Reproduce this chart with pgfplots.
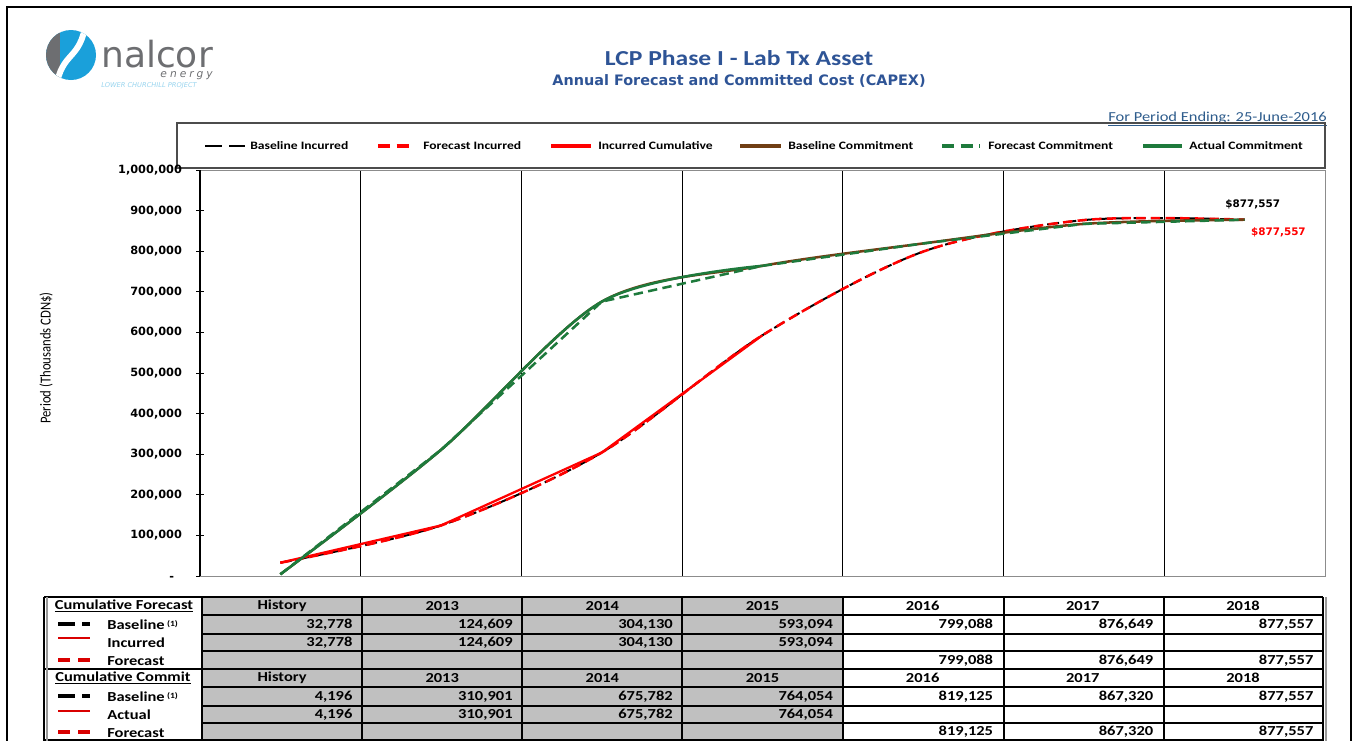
\documentclass[border=0pt]{standalone}
\usepackage{fontspec}
\setmainfont{Carlito}[FakeStretch=1.2]
\newfontfamily\calr{Carlito}
\newfontfamily\dv{DejaVu Sans}
\usepackage{graphicx}
\usepackage{pgfplots}
\pgfplotsset{compat=1.18}
\definecolor{ttl}{RGB}{46,84,150}
\definecolor{ttltwo}{RGB}{46,92,140}
\definecolor{logoblue}{RGB}{26,160,218}
\definecolor{logogray}{RGB}{109,110,113}
\definecolor{lcpred}{RGB}{255,0,0}
\definecolor{lcpgreen}{RGB}{30,122,60}
\definecolor{lcpbrown}{RGB}{112,62,20}
\definecolor{tabgray}{RGB}{192,192,192}
\begin{document}
\begin{tikzpicture}
\useasboundingbox (0pt,0pt) rectangle (1016.25pt,-555pt);
\begin{scope}[x=0.75pt,y=-0.75pt]
% outer frame
\draw[line width=2.2pt] (7,760) -- (7,7) -- (1351,7) -- (1351,760);
% logo
\fill[logoblue] (71,55) circle (25);
\begin{scope}
\clip (71,55) circle (25);
\fill[logogray] (44,20) rectangle (60,90);
\draw[white, line width=4.5] (56,88) .. controls (62,50) and (80,62) .. (86,22);
\end{scope}
\node[anchor=north west, inner sep=0, align=right, text=logogray, font=\dv\fontsize{8}{9}\selectfont] at (101,40)
  {{\fontsize{27}{27}\selectfont nalcor}\\[-1.5pt]{\itshape\addfontfeature{LetterSpace=28}energy\hspace{2pt}}};
\node[anchor=base west, inner sep=0, text=logoblue!45, font=\dv\itshape\fontsize{5}{6}\selectfont] at (101,87) {LOWER CHURCHILL PROJECT};
% titles
\node[text=ttl, font=\bfseries\fontsize{16}{18}\selectfont] at (739,58) {LCP Phase I - Lab Tx Asset};
\node[text=ttl, font=\dv\bfseries\fontsize{10.8}{12}\selectfont] at (739,81) {Annual Forecast and Committed Cost (CAPEX)};
\node[anchor=east, inner sep=0, text=ttltwo, font=\fontsize{10.3}{12}\selectfont] at (1327,119) {\underline{For Period Ending: 25-June-2016}};
% legend box
\draw[draw=black!70, line width=1.1pt] (177,123) rectangle (1325,168);
\begin{scope}[font=\bfseries\fontsize{8.5}{10}\selectfont]
\draw[black, line width=1.6] (205,146) -- (222,146) (229,146) -- (245,146);
\node[anchor=west, inner sep=0] at (250,146) {Baseline Incurred};
\draw[lcpred, line width=2.4, dash pattern=on 9 off 5] (378,146) -- (415,146);
\node[anchor=west, inner sep=0] at (423,146) {Forecast Incurred};
\draw[lcpred, line width=2.4] (551,146) -- (591,146);
\node[anchor=west, inner sep=0] at (598,146) {Incurred Cumulative};
\draw[lcpbrown, line width=3] (740,146) -- (781,146);
\node[anchor=west, inner sep=0] at (788,146) {Baseline Commitment};
\draw[lcpgreen, line width=3, dash pattern=on 9 off 5] (942,146) -- (980,146);
\node[anchor=west, inner sep=0] at (988,146) {Forecast Commitment};
\draw[lcpgreen, line width=3] (1143,146) -- (1182,146);
\node[anchor=west, inner sep=0] at (1189,146) {Actual Commitment};
\end{scope}
% y label
\node[rotate=90, font=\calr\fontsize{9.5}{11}\selectfont] at (46,358) {\scalebox{1}[1.2]{Period (Thousands CDN\$)}};
\end{scope}

\begin{axis}[
  at={(150pt,-432pt)}, anchor=south west,
  scale only axis, width=843.75pt, height=304.5pt,
  xmin=0, xmax=7, ymin=0, ymax=1000000,
  xtick={1,2,3,4,5,6}, xticklabels={}, major x tick style={draw=none},
  xmajorgrids, x grid style={black, line width=0.75pt},
  ytick={0,100000,200000,300000,400000,500000,600000,700000,800000,900000,1000000},
  yticklabels={{-\phantom{0}},{100,000},{200,000},{300,000},{400,000},{500,000},{600,000},{700,000},{800,000},{900,000},{1,000,000}},
  ytick pos=left, tick align=center, major tick length=6pt,
  ytick style={black, line width=0.75pt},
  yticklabel style={font=\dv\bfseries\fontsize{8.5}{10}\selectfont, xshift=-7pt},
  axis line style={draw=black!45, line width=0.75pt},
  scaled y ticks=false, clip=false,
]
\draw[black, line width=0.9pt] (rel axis cs:0,0) -- (rel axis cs:0,1);
% Baseline Incurred
\addplot[black, line width=1.5pt, dash pattern=on 9pt off 4pt, smooth] coordinates {
 (0.5,32778) (1.5,124609) (2.5,304130) (3.5,593094) (4.5,799088) (5.5,876649) (6.5,877557)};
% Forecast Incurred
\addplot[lcpred, line width=1.9pt, dash pattern=on 7pt off 4pt, smooth] coordinates {
 (0.5,32778) (1.5,124609) (2.5,304130) (3.5,593094) (4.5,799088) (5.5,876649) (6.5,877557)};
% Incurred Cumulative
\addplot[lcpred, line width=1.7pt] coordinates {
 (0.5,32778) (1.5,124609) (2.5,304130) (3.5,593094)};
% Baseline Commitment
\addplot[lcpbrown, line width=1.9pt, smooth] coordinates {
 (0.5,4196) (1.5,310901) (2.5,675782) (3.5,764054) (4.5,819125) (5.5,867320) (6.5,877557)};
% Forecast Commitment
\addplot[lcpgreen, line width=1.9pt, dash pattern=on 7pt off 4pt] coordinates {
 (0.5,4196) (1.5,310901) (2.5,675782) (3.5,764054) (4.5,819125) (5.5,867320) (6.5,877557)};
% Actual Commitment
\addplot[lcpgreen, line width=1.9pt, smooth] coordinates {
 (0.5,4196) (1.5,310901) (2.5,675782) (3.5,764054)};
\node[font=\dv\bfseries\fontsize{7.8}{9}\selectfont, text=black] at (axis cs:6.55,916000) {\$877,557};
\node[font=\dv\bfseries\fontsize{7.8}{9}\selectfont, text=lcpred] at (axis cs:6.71,847000) {\$877,557};
\end{axis}

\begin{scope}[x=0.75pt,y=-0.75pt]
% table
\fill[tabgray] (203,597) rectangle (843,742);
\fill[white] (843,597) rectangle (1323,742);
\foreach \y in {615,634,651,687,706,723} {\draw[line width=1.1] (203,\y) -- (1323,\y);}
\draw[line width=1.3] (44,597) -- (1323,597);
\draw[line width=1.8] (44,669) -- (1323,669);
\draw[line width=1.3] (44,740) -- (1323,740);
\draw[line width=1.4] (44,597) -- (44,742);
\draw[black!40, line width=1] (47,597) -- (47,742);
\draw[line width=2] (202,597) -- (202,742);
\foreach \x in {362,522,682,843,1004,1164} {\draw[line width=2] (\x,597) -- (\x,742);}
\draw[line width=2] (1323,597) -- (1323,742);
\draw[black!40, line width=1] (1326,597) -- (1326,742);
\begin{scope}[font=\bfseries\fontsize{10.3}{12}\selectfont]
% headers
\foreach \t [count=\i] in {History,2013,2014,2015,2016,2017,2018} {
  \pgfmathsetmacro{\cx}{202+160.15*(\i-0.5)}
  \node at (\cx,606) {\t};
  \node at (\cx,678) {\t};
}
\foreach \t [count=\i] in {32{,}778,124{,}609,304{,}130,593{,}094,799{,}088,876{,}649,877{,}557} {
  \pgfmathsetmacro{\rx}{202+160.15*\i-5}
  \node[anchor=east] at (\rx,625) {\t};
}
\foreach \t [count=\i] in {32{,}778,124{,}609,304{,}130,593{,}094} {
  \pgfmathsetmacro{\rx}{202+160.15*\i-5}
  \node[anchor=east] at (\rx,643) {\t};
}
\foreach \t [count=\i from 5] in {799{,}088,876{,}649,877{,}557} {
  \pgfmathsetmacro{\rx}{202+160.15*\i-5}
  \node[anchor=east] at (\rx,660.5) {\t};
}
\foreach \t [count=\i] in {4{,}196,310{,}901,675{,}782,764{,}054,819{,}125,867{,}320,877{,}557} {
  \pgfmathsetmacro{\rx}{202+160.15*\i-5}
  \node[anchor=east] at (\rx,697) {\t};
}
\foreach \t [count=\i] in {4{,}196,310{,}901,675{,}782,764{,}054} {
  \pgfmathsetmacro{\rx}{202+160.15*\i-5}
  \node[anchor=east] at (\rx,715) {\t};
}
\foreach \t [count=\i from 5] in {819{,}125,867{,}320,877{,}557} {
  \pgfmathsetmacro{\rx}{202+160.15*\i-5}
  \node[anchor=east] at (\rx,732) {\t};
}
% label column
\node at (124,606) {\underline{Cumulative Forecast}};
\node at (123,678) {\underline{Cumulative Commit}};
\node[anchor=west, inner sep=0] at (107,625) {Baseline\,\raisebox{0.5ex}{\fontsize{6}{7}\selectfont(1)}};
\node[anchor=west, inner sep=0] at (107,643) {Incurred};
\node[anchor=west, inner sep=0] at (107,661) {Forecast};
\node[anchor=west, inner sep=0] at (107,697) {Baseline\,\raisebox{0.5ex}{\fontsize{6}{7}\selectfont(1)}};
\node[anchor=west, inner sep=0] at (107,715) {Actual};
\node[anchor=west, inner sep=0] at (107,733) {Forecast};
\end{scope}
\foreach \y in {624,696} {\draw[black, line width=3.5] (58,\y) -- (75,\y) (82,\y) -- (90,\y);}
\foreach \y in {638,711} {\draw[lcpred!85!black, line width=1.5] (58,\y) -- (90,\y);}
\foreach \y in {660,732} {\draw[lcpred!85!black, line width=3.5] (58,\y) -- (70,\y) (78,\y) -- (90,\y);}
\end{scope}
\end{tikzpicture}
\end{document}
